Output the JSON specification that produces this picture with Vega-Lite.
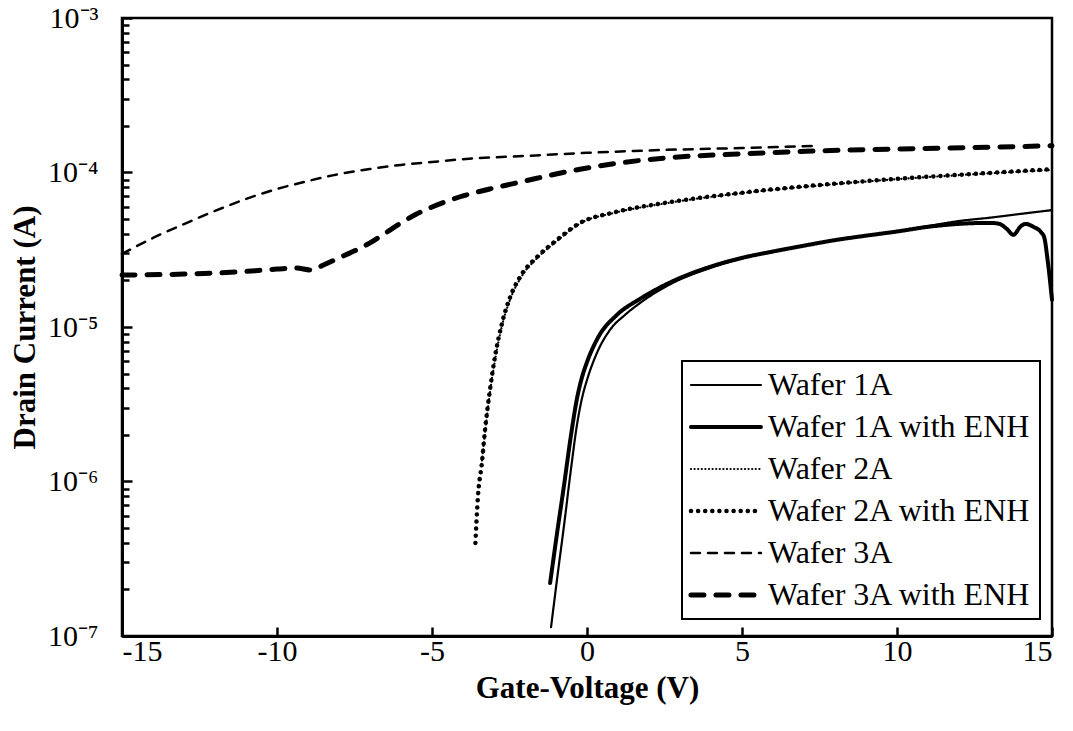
{
  "$schema": "https://vega.github.io/schema/vega-lite/v6.json",
  "width": 930,
  "height": 618,
  "autosize": "none",
  "padding": {"left": 122, "top": 18, "right": 21, "bottom": 95},
  "background": "white",
  "config": {
    "view": {"stroke": "black", "strokeWidth": 2.5},
    "font": "Liberation Serif",
    "axis": {"grid": false, "domainColor": "black", "domainWidth": 3, "tickColor": "black", "tickWidth": 2.5, "labelColor": "black", "titleColor": "black", "labelFont": "Liberation Serif", "titleFont": "Liberation Serif", "labelFontSize": 30, "titleFontSize": 31, "titleFontWeight": "bold"},
    "legend": {"symbolStrokeColor": "black", "labelColor": "black"}
  },
  "datasets": {
    "curves": [
      {"series": "Wafer 1A", "v": -1.16, "i": 1.14e-7},
      {"series": "Wafer 1A", "v": -0.97, "i": 2.3e-7},
      {"series": "Wafer 1A", "v": -0.74, "i": 5.22e-7},
      {"series": "Wafer 1A", "v": -0.52, "i": 1.19e-6},
      {"series": "Wafer 1A", "v": -0.32, "i": 2.35e-6},
      {"series": "Wafer 1A", "v": -0.16, "i": 3.47e-6},
      {"series": "Wafer 1A", "v": 0, "i": 4.54e-6},
      {"series": "Wafer 1A", "v": 0.32, "i": 6.79e-6},
      {"series": "Wafer 1A", "v": 0.74, "i": 9.57e-6},
      {"series": "Wafer 1A", "v": 1.23, "i": 1.2e-5},
      {"series": "Wafer 1A", "v": 1.71, "i": 1.43e-5},
      {"series": "Wafer 1A", "v": 2.77, "i": 1.93e-5},
      {"series": "Wafer 1A", "v": 4, "i": 2.42e-5},
      {"series": "Wafer 1A", "v": 5, "i": 2.78e-5},
      {"series": "Wafer 1A", "v": 6, "i": 3.08e-5},
      {"series": "Wafer 1A", "v": 7, "i": 3.36e-5},
      {"series": "Wafer 1A", "v": 8, "i": 3.65e-5},
      {"series": "Wafer 1A", "v": 9, "i": 3.9e-5},
      {"series": "Wafer 1A", "v": 10, "i": 4.15e-5},
      {"series": "Wafer 1A", "v": 11, "i": 4.5e-5},
      {"series": "Wafer 1A", "v": 12, "i": 4.85e-5},
      {"series": "Wafer 1A", "v": 13, "i": 5.1e-5},
      {"series": "Wafer 1A", "v": 14, "i": 5.4e-5},
      {"series": "Wafer 1A", "v": 15, "i": 5.71e-5},

      {"series": "Wafer 1A with ENH", "v": -1.19, "i": 2.2e-7},
      {"series": "Wafer 1A with ENH", "v": -0.97, "i": 4.57e-7},
      {"series": "Wafer 1A with ENH", "v": -0.74, "i": 9.48e-7},
      {"series": "Wafer 1A with ENH", "v": -0.52, "i": 1.97e-6},
      {"series": "Wafer 1A with ENH", "v": -0.32, "i": 3.47e-6},
      {"series": "Wafer 1A with ENH", "v": -0.16, "i": 4.74e-6},
      {"series": "Wafer 1A with ENH", "v": 0, "i": 5.93e-6},
      {"series": "Wafer 1A with ENH", "v": 0.35, "i": 8.5e-6},
      {"series": "Wafer 1A with ENH", "v": 0.97, "i": 1.2e-5},
      {"series": "Wafer 1A with ENH", "v": 1.71, "i": 1.52e-5},
      {"series": "Wafer 1A with ENH", "v": 2.77, "i": 1.98e-5},
      {"series": "Wafer 1A with ENH", "v": 4, "i": 2.46e-5},
      {"series": "Wafer 1A with ENH", "v": 5, "i": 2.8e-5},
      {"series": "Wafer 1A with ENH", "v": 6, "i": 3.08e-5},
      {"series": "Wafer 1A with ENH", "v": 7, "i": 3.36e-5},
      {"series": "Wafer 1A with ENH", "v": 8, "i": 3.65e-5},
      {"series": "Wafer 1A with ENH", "v": 9, "i": 3.9e-5},
      {"series": "Wafer 1A with ENH", "v": 10, "i": 4.15e-5},
      {"series": "Wafer 1A with ENH", "v": 11, "i": 4.45e-5},
      {"series": "Wafer 1A with ENH", "v": 12, "i": 4.65e-5},
      {"series": "Wafer 1A with ENH", "v": 13, "i": 4.72e-5},
      {"series": "Wafer 1A with ENH", "v": 13.3, "i": 4.65e-5},
      {"series": "Wafer 1A with ENH", "v": 13.55, "i": 4.3e-5},
      {"series": "Wafer 1A with ENH", "v": 13.75, "i": 3.95e-5},
      {"series": "Wafer 1A with ENH", "v": 14.0, "i": 4.5e-5},
      {"series": "Wafer 1A with ENH", "v": 14.15, "i": 4.65e-5},
      {"series": "Wafer 1A with ENH", "v": 14.4, "i": 4.45e-5},
      {"series": "Wafer 1A with ENH", "v": 14.65, "i": 4.1e-5},
      {"series": "Wafer 1A with ENH", "v": 14.75, "i": 3.8e-5},
      {"series": "Wafer 1A with ENH", "v": 14.85, "i": 2.8e-5},
      {"series": "Wafer 1A with ENH", "v": 15, "i": 1.5e-5},

      {"series": "Wafer 2A", "v": -3.4, "i": 1.3e-6},
      {"series": "Wafer 2A", "v": -3.28, "i": 2.15e-6},
      {"series": "Wafer 2A", "v": -3.12, "i": 3.9e-6},
      {"series": "Wafer 2A", "v": -2.95, "i": 6.4e-6},
      {"series": "Wafer 2A", "v": -2.72, "i": 1.06e-5},
      {"series": "Wafer 2A", "v": -2.45, "i": 1.56e-5},
      {"series": "Wafer 2A", "v": -2.12, "i": 2.11e-5},
      {"series": "Wafer 2A", "v": -1.57, "i": 2.84e-5},
      {"series": "Wafer 2A", "v": -0.93, "i": 3.66e-5},
      {"series": "Wafer 2A", "v": -0.2, "i": 4.71e-5},
      {"series": "Wafer 2A", "v": 0.87, "i": 5.47e-5},
      {"series": "Wafer 2A", "v": 2.5, "i": 6.3e-5},
      {"series": "Wafer 2A", "v": 5, "i": 7.36e-5},
      {"series": "Wafer 2A", "v": 7.5, "i": 8.25e-5},
      {"series": "Wafer 2A", "v": 10, "i": 9.05e-5},
      {"series": "Wafer 2A", "v": 12.5, "i": 9.75e-5},
      {"series": "Wafer 2A", "v": 15, "i": 1.04e-4},

      {"series": "Wafer 2A with ENH", "v": -3.6, "i": 4.0e-7},
      {"series": "Wafer 2A with ENH", "v": -3.52, "i": 7.9e-7},
      {"series": "Wafer 2A with ENH", "v": -3.39, "i": 1.32e-6},
      {"series": "Wafer 2A with ENH", "v": -3.29, "i": 2.15e-6},
      {"series": "Wafer 2A with ENH", "v": -3.13, "i": 3.91e-6},
      {"series": "Wafer 2A with ENH", "v": -2.97, "i": 6.4e-6},
      {"series": "Wafer 2A with ENH", "v": -2.74, "i": 1.06e-5},
      {"series": "Wafer 2A with ENH", "v": -2.48, "i": 1.56e-5},
      {"series": "Wafer 2A with ENH", "v": -2.16, "i": 2.11e-5},
      {"series": "Wafer 2A with ENH", "v": -1.61, "i": 2.84e-5},
      {"series": "Wafer 2A with ENH", "v": -0.97, "i": 3.66e-5},
      {"series": "Wafer 2A with ENH", "v": -0.23, "i": 4.71e-5},
      {"series": "Wafer 2A with ENH", "v": 0.84, "i": 5.5e-5},
      {"series": "Wafer 2A with ENH", "v": 2.5, "i": 6.35e-5},
      {"series": "Wafer 2A with ENH", "v": 5, "i": 7.4e-5},
      {"series": "Wafer 2A with ENH", "v": 7.5, "i": 8.3e-5},
      {"series": "Wafer 2A with ENH", "v": 10, "i": 9.1e-5},
      {"series": "Wafer 2A with ENH", "v": 12.5, "i": 9.8e-5},
      {"series": "Wafer 2A with ENH", "v": 15, "i": 1.05e-4},

      {"series": "Wafer 3A", "v": -15, "i": 2.97e-5},
      {"series": "Wafer 3A", "v": -14, "i": 3.77e-5},
      {"series": "Wafer 3A", "v": -13, "i": 4.64e-5},
      {"series": "Wafer 3A", "v": -12, "i": 5.64e-5},
      {"series": "Wafer 3A", "v": -11, "i": 6.74e-5},
      {"series": "Wafer 3A", "v": -10, "i": 7.82e-5},
      {"series": "Wafer 3A", "v": -9, "i": 8.81e-5},
      {"series": "Wafer 3A", "v": -8, "i": 9.78e-5},
      {"series": "Wafer 3A", "v": -7, "i": 1.054e-4},
      {"series": "Wafer 3A", "v": -6, "i": 1.12e-4},
      {"series": "Wafer 3A", "v": -5, "i": 1.17e-4},
      {"series": "Wafer 3A", "v": -4, "i": 1.22e-4},
      {"series": "Wafer 3A", "v": -2, "i": 1.28e-4},
      {"series": "Wafer 3A", "v": 0, "i": 1.34e-4},
      {"series": "Wafer 3A", "v": 2.5, "i": 1.4e-4},
      {"series": "Wafer 3A", "v": 5, "i": 1.44e-4},
      {"series": "Wafer 3A", "v": 7.5, "i": 1.49e-4},

      {"series": "Wafer 3A with ENH", "v": -15, "i": 2.17e-5},
      {"series": "Wafer 3A with ENH", "v": -13, "i": 2.2e-5},
      {"series": "Wafer 3A with ENH", "v": -11.3, "i": 2.27e-5},
      {"series": "Wafer 3A with ENH", "v": -10, "i": 2.37e-5},
      {"series": "Wafer 3A with ENH", "v": -9.4, "i": 2.41e-5},
      {"series": "Wafer 3A with ENH", "v": -8.9, "i": 2.34e-5},
      {"series": "Wafer 3A with ENH", "v": -8.5, "i": 2.52e-5},
      {"series": "Wafer 3A with ENH", "v": -8, "i": 2.8e-5},
      {"series": "Wafer 3A with ENH", "v": -7.5, "i": 3.11e-5},
      {"series": "Wafer 3A with ENH", "v": -7, "i": 3.5e-5},
      {"series": "Wafer 3A with ENH", "v": -6.5, "i": 4.06e-5},
      {"series": "Wafer 3A with ENH", "v": -6, "i": 4.71e-5},
      {"series": "Wafer 3A with ENH", "v": -5.5, "i": 5.38e-5},
      {"series": "Wafer 3A with ENH", "v": -5, "i": 5.98e-5},
      {"series": "Wafer 3A with ENH", "v": -4, "i": 7.05e-5},
      {"series": "Wafer 3A with ENH", "v": -3, "i": 7.94e-5},
      {"series": "Wafer 3A with ENH", "v": -2, "i": 8.81e-5},
      {"series": "Wafer 3A with ENH", "v": -1, "i": 9.78e-5},
      {"series": "Wafer 3A with ENH", "v": 0, "i": 1.069e-4},
      {"series": "Wafer 3A with ENH", "v": 1, "i": 1.15e-4},
      {"series": "Wafer 3A with ENH", "v": 2.5, "i": 1.24e-4},
      {"series": "Wafer 3A with ENH", "v": 5, "i": 1.32e-4},
      {"series": "Wafer 3A with ENH", "v": 7.5, "i": 1.38e-4},
      {"series": "Wafer 3A with ENH", "v": 10, "i": 1.42e-4},
      {"series": "Wafer 3A with ENH", "v": 12.5, "i": 1.45e-4},
      {"series": "Wafer 3A with ENH", "v": 15, "i": 1.49e-4}
    ]
  },
  "resolve": {"scale": {"x": "shared", "y": "shared"}, "axis": {"y": "independent"}},
  "layer": [
    {
      "mark": {"type": "rule", "color": "#999999", "strokeWidth": 1.5},
      "encoding": {
        "x": {"datum": 0, "type": "quantitative", "scale": {"domain": [-15, 15], "nice": false, "zero": false}},
        "y": {"datum": 1e-7, "type": "quantitative", "scale": {"type": "log", "domain": [1e-7, 1e-3], "nice": false},
          "axis": {"orient": "left", "title": null, "labels": false, "domain": false, "values": [2e-7, 3e-7, 4e-7, 5e-7, 6e-7, 7e-7, 8e-7, 9e-7, 2e-6, 3e-6, 4e-6, 5e-6, 6e-6, 7e-6, 8e-6, 9e-6, 2e-5, 3e-5, 4e-5, 5e-5, 6e-5, 7e-5, 8e-5, 9e-5, 2e-4, 3e-4, 4e-4, 5e-4, 6e-4, 7e-4, 8e-4, 9e-4], "tickSize": -7, "tickWidth": 2.5}},
        "y2": {"datum": 1e-3}
      }
    },
    {
      "data": {"name": "curves"},
      "mark": {"type": "line", "color": "black", "strokeCap": "round", "strokeJoin": "round", "interpolate": "monotone"},
      "encoding": {
        "x": {"field": "v", "type": "quantitative", "scale": {"domain": [-15, 15], "nice": false, "zero": false},
          "axis": {"title": "Gate-Voltage (V)", "values": [-15, -10, -5, 0, 5, 10, 15], "tickSize": -9, "labelPadding": 9, "titlePadding": 7,
            "labelExpr": "datum.value < 0 ? '-' + abs(datum.value) : '' + datum.value"}},
        "y": {"field": "i", "type": "quantitative", "scale": {"type": "log", "domain": [1e-7, 1e-3], "nice": false},
          "axis": {"orient": "left", "title": "Drain Current (A)", "values": [1e-7, 1e-6, 1e-5, 1e-4, 1e-3], "tickSize": -10, "labelPadding": 34, "titlePadding": 6,
            "labelExpr": "datum.value > 5e-4 ? '10⁻³' : datum.value > 5e-5 ? '10⁻⁴' : datum.value > 5e-6 ? '10⁻⁵' : datum.value > 5e-7 ? '10⁻⁶' : '10⁻⁷'"}},
        "strokeDash": {"field": "series", "type": "nominal",
          "scale": {"domain": ["Wafer 1A", "Wafer 1A with ENH", "Wafer 2A", "Wafer 2A with ENH", "Wafer 3A", "Wafer 3A with ENH"],
            "range": [[1, 0], [1, 0], [0.1, 3.5], [0.1, 7], [9, 8], [13, 12]]},
          "legend": {"title": null, "orient": "none", "legendX": 560, "legendY": 343, "symbolType": "M-2.15,0H7.85", "symbolSize": 196, "labelFontSize": 32, "labelFont": "Liberation Serif", "labelLimit": 0, "strokeColor": "black", "fillColor": "white", "padding": 8, "rowPadding": 10, "labelOffset": 46,
            "encode": {"legend": {"update": {"strokeWidth": {"value": 2}}}, "symbols": {"update": {"strokeCap": {"value": "round"}}}}}},
        "strokeWidth": {"field": "series", "type": "nominal",
          "scale": {"type": "ordinal", "domain": ["Wafer 1A", "Wafer 1A with ENH", "Wafer 2A", "Wafer 2A with ENH", "Wafer 3A", "Wafer 3A with ENH"],
            "range": [2.2, 4, 2.2, 4.5, 2.5, 5]}}
      }
    }
  ]
}
